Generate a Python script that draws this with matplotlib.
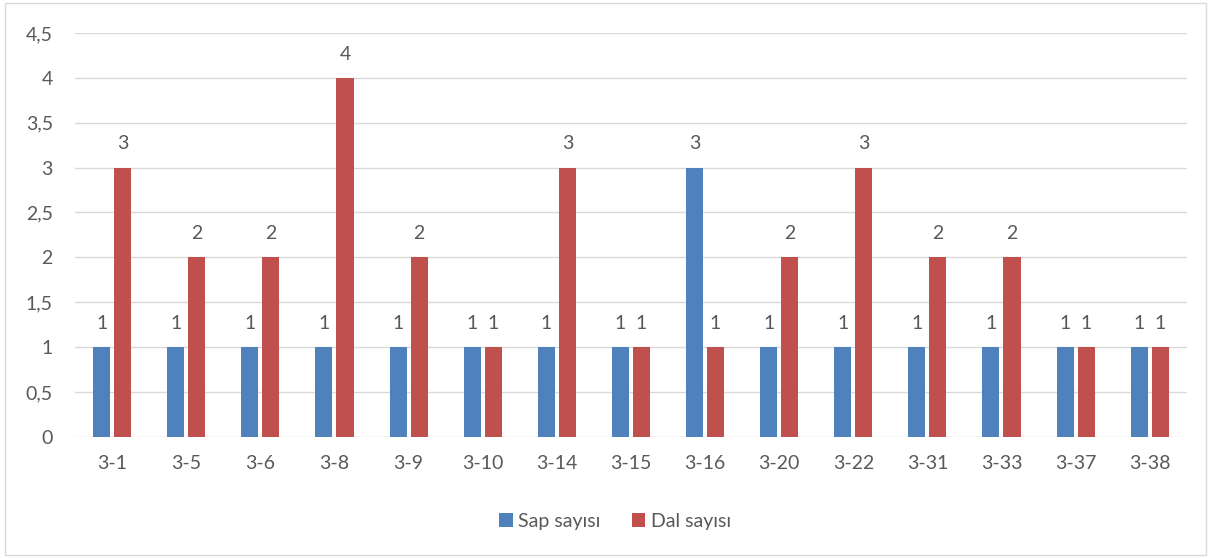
import numpy as np
import matplotlib
matplotlib.use('Agg')
from matplotlib import pyplot as plt
from matplotlib.patches import Rectangle

categories = ['3-1', '3-5', '3-6', '3-8', '3-9', '3-10', '3-14', '3-15',
              '3-16', '3-20', '3-22', '3-31', '3-33', '3-37', '3-38']
sap = [1, 1, 1, 1, 1, 1, 1, 1, 3, 1, 1, 1, 1, 1, 1]
dal = [3, 2, 2, 4, 2, 1, 3, 1, 1, 2, 3, 2, 2, 1, 1]
y_ticks = [0, 0.5, 1, 1.5, 2, 2.5, 3, 3.5, 4, 4.5]

BLUE = '#4f81bd'
RED = '#c0504d'
TEXT = '#595959'
GRID = '#d9d9d9'

plt.rcParams['font.family'] = ['Lato', 'DejaVu Sans']

fig = plt.figure(figsize=(12.11, 5.58), dpi=100)
fig.patches.append(Rectangle((0.004, 0.006), 0.992, 0.988, transform=fig.transFigure,
                             fill=False, edgecolor=GRID, linewidth=1))
ax = fig.add_axes([0.062, 0.217, 0.918, 0.724])

x = np.arange(len(categories))
w = 0.23
off = 0.142
b1 = ax.bar(x - off, sap, w, color=BLUE, label='Sap sayısı', zorder=3)
b2 = ax.bar(x + off, dal, w, color=RED, label='Dal sayısı', zorder=3)

for bars, vals in ((b1, sap), (b2, dal)):
    for rect, v in zip(bars, vals):
        ax.annotate(str(v), (rect.get_x() + rect.get_width() / 2, v),
                    xytext=(0, 11), textcoords='offset points',
                    ha='center', va='bottom', fontsize=14, color=TEXT)

ax.set_xlim(-0.5, len(categories) - 0.5)
ax.set_ylim(0, 4.5)
ax.set_yticks(y_ticks)
ax.set_yticklabels([('%g' % t).replace('.', ',') for t in y_ticks])
ax.set_xticks(x)
ax.set_xticklabels(categories)
ax.tick_params(length=0, labelsize=14, colors=TEXT)
ax.tick_params(axis='x', pad=13)
ax.tick_params(axis='y', pad=16)
ax.grid(axis='y', color=GRID, linewidth=1, zorder=0)
for s in ax.spines.values():
    s.set_visible(False)

fig.legend(handles=[b1, b2], loc='center', bbox_to_anchor=(0.508, 0.066), ncol=2,
           frameon=False, fontsize=14, labelcolor=TEXT, handlelength=0.7,
           handleheight=0.7, handletextpad=0.3, columnspacing=1.6)

fig.savefig('out.png', dpi=100)
